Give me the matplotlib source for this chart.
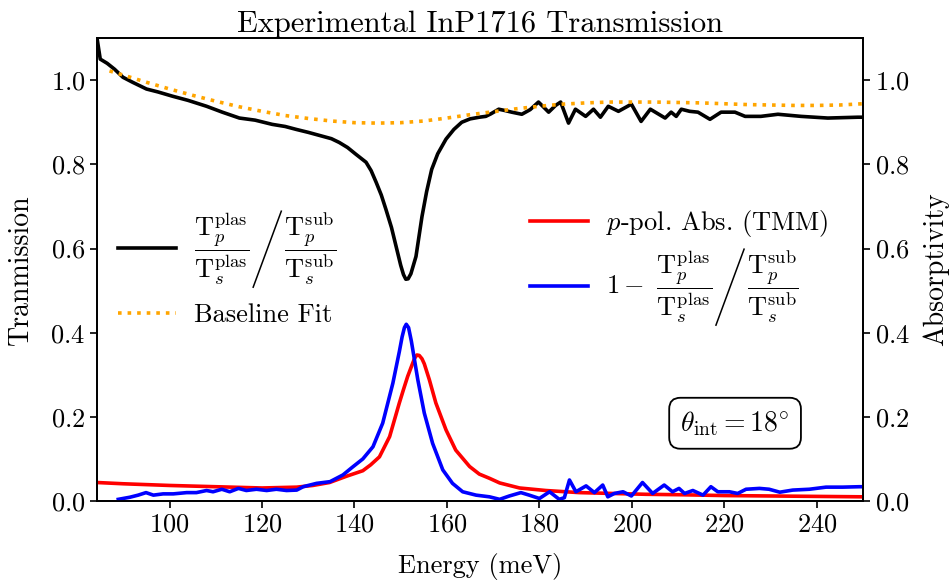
import matplotlib
matplotlib.use("Agg")
import matplotlib.pyplot as plt
from matplotlib.lines import Line2D
from matplotlib.legend import Legend

plt.rcParams.update({
    "font.family": "serif",
    "font.serif": ["cmr10"],
    "mathtext.fontset": "cm",
    "axes.formatter.use_mathtext": True,
    "axes.unicode_minus": False,
})

# ---- data ----
E_T = [84.3, 85.0, 86.5, 88.1, 89.9, 92, 95.0, 97.5, 100.6, 104, 108, 111.4, 115.1, 118.5,
       122.2, 125, 127.4, 130, 133, 135, 136.7, 138.5, 140.3, 142.5, 143.6, 144.7, 145.8,
       146.8, 148, 149, 150, 150.6, 151.1, 151.6, 152.2, 153.3, 154.6, 155.6, 156.7, 158,
       159.8, 161.5, 163.2, 165, 167, 168.4, 169.5, 171.2, 172.5, 174, 176.2, 178, 179.8,
       181, 182, 183.5, 184.6, 186.3, 187.8, 190, 191.7, 193.2, 194.9, 197.1, 199.9, 202,
       204, 207.2, 208.5, 209.6, 210.7, 212.5, 214.3, 216.9, 219.3, 222.3, 224.5, 227.9,
       231.6, 236.6, 242.4, 248.9, 250]
T_ratio = [1.10, 1.05, 1.04, 1.026, 1.007, 0.995, 0.979, 0.972, 0.962, 0.952, 0.938, 0.924,
           0.91, 0.905, 0.895, 0.89, 0.883, 0.876, 0.867, 0.861, 0.852, 0.84, 0.824, 0.805,
           0.785, 0.757, 0.727, 0.693, 0.65, 0.605, 0.56, 0.538, 0.527, 0.528, 0.54, 0.581,
           0.676, 0.735, 0.788, 0.825, 0.86, 0.883, 0.9, 0.908, 0.912, 0.914, 0.92, 0.931,
           0.928, 0.924, 0.919, 0.93, 0.948, 0.935, 0.924, 0.94, 0.948, 0.898, 0.931, 0.914,
           0.931, 0.912, 0.938, 0.926, 0.943, 0.902, 0.931, 0.91, 0.924, 0.914, 0.931, 0.926,
           0.924, 0.907, 0.924, 0.924, 0.914, 0.914, 0.919, 0.914, 0.91, 0.912, 0.912]

E_B = [87, 90, 95, 100, 105, 110, 115, 120, 125, 130, 135, 140, 145, 150, 155, 160, 165,
       170, 175, 180, 185, 190, 195, 200, 205, 210, 215, 220, 225, 230, 235, 240, 245, 250]
baseline = [1.022, 1.012, 0.995, 0.979, 0.964, 0.950, 0.937, 0.926, 0.916, 0.909, 0.903,
            0.899, 0.898, 0.899, 0.903, 0.910, 0.918, 0.925, 0.932, 0.938, 0.943, 0.946,
            0.948, 0.948, 0.948, 0.947, 0.946, 0.944, 0.942, 0.941, 0.940, 0.940, 0.941, 0.944]

E_R = [84.3, 90, 100, 110, 120, 127.5, 131, 134.6, 138.3, 141.8, 143.5, 145.4, 147.6, 149.7,
       150.6, 151.5, 152.5, 153.0, 153.5, 154.0, 154.6, 155.1, 156.2, 157.6, 159.8, 161.9,
       164.9, 167, 169.2, 171.4, 175.7, 181.4, 188.6, 195.8, 203, 210.3, 220, 230, 240, 250]
abs_tmm = [0.044, 0.041, 0.037, 0.034, 0.031, 0.033, 0.037, 0.044, 0.059, 0.072, 0.086,
           0.105, 0.153, 0.233, 0.265, 0.296, 0.325, 0.339, 0.347, 0.346, 0.338, 0.326,
           0.288, 0.233, 0.169, 0.121, 0.082, 0.064, 0.054, 0.043, 0.031, 0.025, 0.02,
           0.018, 0.016, 0.015, 0.013, 0.012, 0.011, 0.010]

E_A = [88.9, 91.4, 93.2, 94.9, 96.5, 98.6, 100.8, 103.7, 105.8, 108, 109.4, 111.3, 113,
       114.9, 116.6, 118.8, 121, 123.1, 125.3, 127.5, 128.9, 131.8, 134.7, 137.5, 139.5,
       141.8, 144, 146.1, 148.3, 149.7, 150.3, 150.8, 151.2, 151.7, 152.3, 153.7, 155.1,
       156.9, 159.1, 161.2, 163.4, 166.3, 169.2, 171.4, 173.5, 176, 177.8, 180, 182.2,
       184.3, 185.4, 186.5, 187.9, 190.1, 191.9, 193.7, 194.8, 196.2, 198.1, 199.9, 202.3,
       204.5, 207, 208.8, 210.2, 211.4, 213.2, 215.4, 217.1, 218.6, 221.1, 222.9, 224.7,
       227.6, 229.7, 232, 234.8, 238.4, 242, 245.6, 249.2, 250]
abs_exp = [0.004, 0.009, 0.014, 0.02, 0.014, 0.017, 0.017, 0.02, 0.02, 0.025, 0.022, 0.028,
           0.022, 0.03, 0.025, 0.028, 0.025, 0.028, 0.025, 0.026, 0.034, 0.042, 0.046, 0.062,
           0.08, 0.10, 0.129, 0.185, 0.28, 0.355, 0.39, 0.412, 0.42, 0.412, 0.38, 0.288,
           0.209, 0.137, 0.074, 0.042, 0.022, 0.014, 0.01, 0.004, 0.012, 0.02, 0.014, 0.006,
           0.022, 0.004, 0.008, 0.05, 0.022, 0.036, 0.02, 0.038, 0.01, 0.018, 0.022, 0.012,
           0.044, 0.018, 0.038, 0.022, 0.03, 0.018, 0.025, 0.014, 0.034, 0.022, 0.022, 0.018,
           0.028, 0.03, 0.028, 0.021, 0.026, 0.028, 0.033, 0.033, 0.034, 0.034]

yticks = [0.0, 0.2, 0.4, 0.6, 0.8, 1.0]
xticks = [100, 120, 140, 160, 180, 200, 220, 240]

FS = 19
frac_plas = r"\dfrac{\mathrm{T}_p^{\mathrm{plas}}}{\mathrm{T}_s^{\mathrm{plas}}}"
frac_sub = r"\dfrac{\mathrm{T}_p^{\mathrm{sub}}}{\mathrm{T}_s^{\mathrm{sub}}}"
gap = r"\quad\;\,"
ratio_first = "$" + frac_plas + "$"
ratio_lbl = "$" + frac_plas + gap + frac_sub + "$"
abs_first = "$1-\\ " + frac_plas + "$"
abs_lbl = "$1-\\ " + frac_plas + gap + frac_sub + "$"

fig = plt.figure(figsize=(9.52, 5.86), dpi=100)
ax = fig.add_axes([0.1019, 0.145, 0.8046, 0.79])
ax2 = ax.twinx()

l1, = ax.plot(E_T, T_ratio, color="black", lw=2.6)
l2, = ax.plot(E_B, baseline, color="orange", lw=2.6, ls=":")
l3, = ax2.plot(E_R, abs_tmm, color="red", lw=2.6)
l4, = ax2.plot(E_A, abs_exp, color="blue", lw=2.6)

for a in (ax, ax2):
    a.set_xlim(84.3, 250)
    a.set_ylim(0, 1.1)
    a.set_yticks(yticks)
    a.tick_params(labelsize=FS, width=1.2, length=5)
    for s in a.spines.values():
        s.set_linewidth(1.3)
ax.set_xticks(xticks)

ax.set_xlabel("Energy (meV)", fontsize=FS, labelpad=12)
ax.set_ylabel("Tranmission", fontsize=FS + 1, labelpad=12)
ax2.set_ylabel("Absorptivity", fontsize=FS + 1, labelpad=9)
ax.set_title("Experimental InP1716 Transmission", fontsize=22, pad=4)

# one legend per entry, each centred on its row
entries = [(l1, ratio_lbl, 0.013, 0.544),
           (l2, "Baseline Fit", 0.013, 0.402),
           (l3, r"$p$-pol. Abs. (TMM)", 0.551, 0.600),
           (l4, abs_lbl, 0.551, 0.462)]
legs = []
for h, lbl, xa, ya in entries:
    lg = Legend(ax2, [h], [lbl], loc="center left", bbox_to_anchor=(xa, ya),
                frameon=False, fontsize=FS, handlelength=2.2, handletextpad=0.7,
                borderaxespad=0.0)
    ax2.add_artist(lg)
    legs.append(lg)

ax2.text(0.833, 0.168, r"$\theta_{\mathrm{int}} = 18^{\circ}$", transform=ax2.transAxes,
         fontsize=20, ha="center", va="center",
         bbox=dict(boxstyle="round,pad=0.4", fc="white", ec="black", lw=1.3))

# large slash delimiters between the fractions of the legend labels
fig.canvas.draw()
renderer = fig.canvas.get_renderer()
inv = fig.transFigure.inverted()


def add_slash(txt_artist, first_str):
    bb = txt_artist.get_window_extent(renderer)
    t1 = fig.text(0, 0, first_str, fontsize=FS)
    t2 = fig.text(0, 0, "$" + frac_sub + "$", fontsize=FS)
    w1 = t1.get_window_extent(renderer).width
    w2 = t2.get_window_extent(renderer).width
    t1.remove()
    t2.remove()
    g = bb.width - w1 - w2
    xc = bb.x0 + w1 + g / 2
    yc = (bb.y0 + bb.y1) / 2
    h = 76.0
    dx = 0.37 * h / 2
    p0 = inv.transform((xc - dx, yc - h / 2))
    p1 = inv.transform((xc + dx, yc + h / 2))
    fig.add_artist(Line2D([p0[0], p1[0]], [p0[1], p1[1]], transform=fig.transFigure,
                          color="black", lw=1.1))


add_slash(legs[0].get_texts()[0], ratio_first)
add_slash(legs[3].get_texts()[0], abs_first)

fig.savefig("out.png", dpi=100)
